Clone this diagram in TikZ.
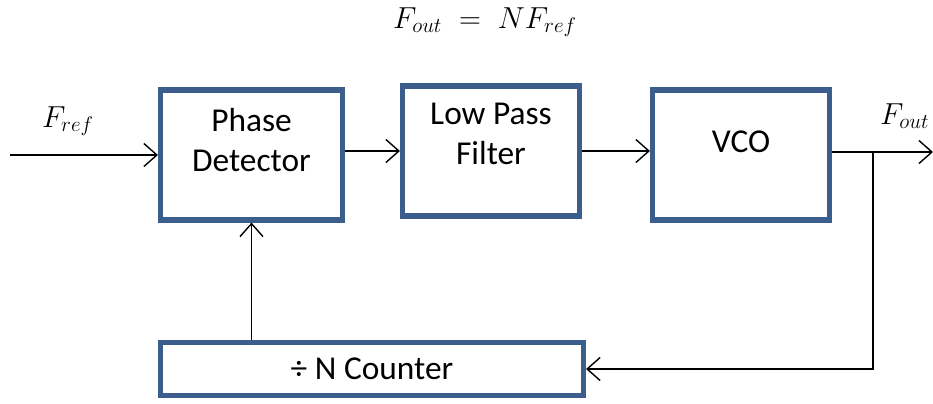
\documentclass[tikz,border=0pt]{standalone}
\usepackage{fontspec}
\setmainfont{Carlito}
\usetikzlibrary{arrows.meta}
\definecolor{boxblue}{RGB}{60,94,140}

\begin{document}
\begin{tikzpicture}[
x=0.02cm, y=-0.02cm,
block/.style={draw=boxblue, line width=2.9pt, minimum width=180*0.02cm, minimum height=130*0.02cm},
lbl/.style={align=center, font=\fontsize{19}{23}\selectfont},
sig/.style={font=\fontsize{18.5}{21}\selectfont},
conn/.style={line width=0.8pt, -{Straight Barb[length=2.6mm, width=4.6mm, line width=0.8pt]}}
]

\useasboundingbox (0,0) rectangle (933,403);
\clip (0,0) rectangle (933,403);

%%% blocks
\node[block, minimum width=182*0.02cm] (pd) at (251.5,155) {};
\node[lbl] (pdtxt) at (251.5,140) {Phase\\Detector};

\node[block, minimum width=177*0.02cm] (lpf) at (491,151) {};
\node[lbl] (lpftxt) at (491,134) {Low Pass\\Filter};

\node[block, minimum width=177*0.02cm] (vco) at (741,155) {};
\node[lbl] (vcotxt) at (741,142) {VCO};

\node[block, minimum width=423*0.02cm, minimum height=53*0.02cm] (cnt) at (372,369) {\fontsize{19}{23}\selectfont ÷ N Counter};

%%% signals
\node[sig] (eq) at (485,22) {$F_{out} \;=\; NF_{ref}$};
\node[sig] (fref) at (68,121) {$F_{ref}$};
\node[sig, anchor=west] (fout) at (874,116) {$F_{out}$};

\coordinate (in) at (10,155);
\coordinate (out) at (933,152);
\coordinate (tap) at (873,152);

%%% connectors
\draw[conn] (in) -- (pd.west);
\draw[conn] (pd.east |- lpf.west) -- (lpf.west);
\draw[conn] (lpf.east) -- (lpf.east -| vco.west);
\draw[conn] (vco.east |- out) -- (out);
\draw[conn] (tap) |- (cnt.east);
\draw[conn] (cnt.north -| pd.south) -- (pd.south);

\end{tikzpicture}
\end{document}
